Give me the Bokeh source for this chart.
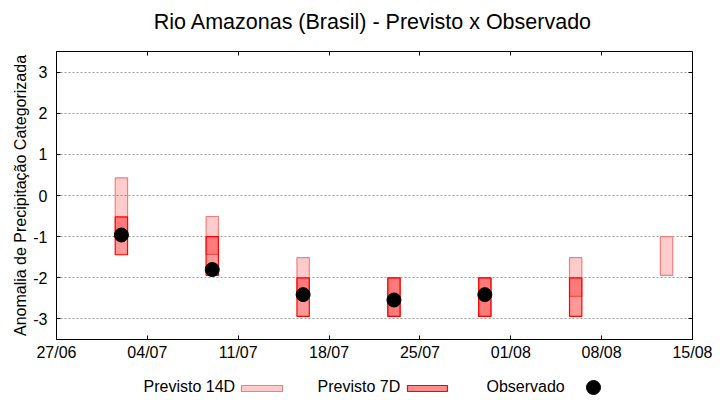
import pandas as pd
from bokeh.plotting import figure
from bokeh.layouts import column
from bokeh.models import (Range1d, FixedTicker, DatetimeTickFormatter, DatetimeAxis,
                          LinearAxis, CustomJSTickFormatter)
from bokeh.core.properties import value
from bokeh.embed import file_html
from bokeh.resources import INLINE

# ---------------- data ----------------
dates_14d = ["2024-07-02", "2024-07-09", "2024-07-16", "2024-07-23",
             "2024-07-30", "2024-08-06", "2024-08-13"]
p14_top = [0.43, -0.51, -1.51, -2.0, -2.0, -1.51, -1.0]
p14_bottom = [-1.0, -1.43, -2.45, -2.94, -2.94, -2.45, -1.94]

dates_7d = ["2024-07-02", "2024-07-09", "2024-07-16", "2024-07-23",
            "2024-07-30", "2024-08-06"]
p7_top = [-0.52, -1.0, -2.0, -2.0, -2.0, -2.0]
p7_bottom = [-1.44, -1.94, -2.94, -2.94, -2.94, -2.94]

dates_obs = ["2024-07-02", "2024-07-09", "2024-07-16", "2024-07-23", "2024-07-30"]
obs = [-0.96, -1.80, -2.41, -2.54, -2.41]

x_tick_dates = ["2024-06-27", "2024-07-04", "2024-07-11", "2024-07-18",
                "2024-07-25", "2024-08-01", "2024-08-08", "2024-08-15"]
y_ticks = [-3, -2, -1, 0, 1, 2, 3]

title_text = "Rio Amazonas (Brasil) - Previsto x Observado"
y_label = "Anomalia de Precipitação Categorizada"
legend_labels = ["Previsto 14D", "Previsto 7D", "Observado"]

# ---------------- layout constants ----------------
FONT = "Liberation Sans"
DAY_MS = 86400000
bar_w = 0.95 * DAY_MS
W = 720
FRAME_L, FRAME_R = 56, 692
TITLE_H = 40
MAIN_H = 326
LEG_H = 34
FRAME_TOP, FRAME_BOTTOM = 51, 339   # page pixels


def strip(height, y_top):
    """A bare figure whose frame is aligned with the main frame; data units = page px."""
    f = figure(width=W, height=height, output_backend="svg", toolbar_location=None,
               x_range=Range1d(FRAME_L, FRAME_R), y_range=Range1d(y_top + height, y_top),
               min_border_left=FRAME_L, min_border_right=W - FRAME_R,
               min_border_top=0, min_border_bottom=0,
               x_axis_location=None, y_axis_location=None)
    f.title.visible = False
    f.outline_line_color = None
    f.xgrid.visible = False
    f.ygrid.visible = False
    return f


# ---------------- title strip ----------------
tfig = strip(TITLE_H, 0)
tfig.text(x=[(FRAME_L + FRAME_R) / 2 - 1.5], y=[21], text=[title_text], text_font=value(FONT),
          text_font_size="21.5px", text_color="black", text_align="center",
          text_baseline="middle")

# ---------------- main figure ----------------
p = figure(width=W, height=MAIN_H, output_backend="svg", toolbar_location=None,
           x_axis_type="datetime",
           x_range=Range1d(pd.Timestamp(x_tick_dates[0]), pd.Timestamp(x_tick_dates[-1])),
           y_range=Range1d(-3.5, 3.5),
           min_border_left=FRAME_L, min_border_right=W - FRAME_R,
           min_border_top=FRAME_TOP - TITLE_H,
           min_border_bottom=TITLE_H + MAIN_H - FRAME_BOTTOM)
p.title.visible = False
p.outline_line_color = "black"
p.outline_line_width = 1

xt = FixedTicker(ticks=[pd.Timestamp(d).timestamp() * 1000 for d in x_tick_dates])
fmt_str = "%d/%m"
xf = DatetimeTickFormatter(microseconds=fmt_str, milliseconds=fmt_str, seconds=fmt_str,
                           minsec=fmt_str, minutes=fmt_str, hourmin=fmt_str, hours=fmt_str,
                           days=fmt_str, months=fmt_str, years=fmt_str)
yt = FixedTicker(ticks=y_ticks)

for ax in p.xaxis:
    ax.ticker = xt
    ax.formatter = xf
for ax in p.yaxis:
    ax.ticker = yt
    ax.major_label_overrides = {t: str(t) for t in y_ticks}
    ax.axis_label = y_label
    ax.axis_label_text_font = FONT
    ax.axis_label_text_font_size = "16px"
    ax.axis_label_text_font_style = "normal"
    ax.axis_label_text_color = "black"
    ax.axis_label_standoff = 1
for ax in p.xaxis + p.yaxis:
    ax.major_tick_in = 4
    ax.major_tick_out = 0
    ax.minor_tick_line_color = None
    ax.major_label_text_font = FONT
    ax.major_label_text_font_size = "16px"
    ax.major_label_text_color = "black"
    ax.axis_line_color = "black"
    ax.major_tick_line_color = "black"
p.xaxis.major_label_standoff = 4
p.yaxis.major_label_standoff = 9

blank = CustomJSTickFormatter(code="return ''")
top_ax = DatetimeAxis(ticker=xt, formatter=blank,
                      major_label_standoff=0, major_tick_in=4, major_tick_out=0,
                      axis_line_color=None, minor_tick_line_color=None)
right_ax = LinearAxis(ticker=yt, formatter=blank,
                      major_label_standoff=0, major_tick_in=4, major_tick_out=0,
                      axis_line_color=None, minor_tick_line_color=None)
p.add_layout(top_ax, "above")
p.add_layout(right_ax, "right")

p.xgrid.visible = False
p.ygrid.ticker = yt
p.ygrid.grid_line_color = "#a0a0a0"
p.ygrid.grid_line_dash = "2 2"
p.ygrid.grid_line_width = 1

p.vbar(x=pd.to_datetime(dates_14d), width=bar_w, top=p14_top, bottom=p14_bottom,
       fill_color="red", fill_alpha=0.2, line_color="#f08080", line_width=1.2)
p.vbar(x=pd.to_datetime(dates_7d), width=bar_w, top=p7_top, bottom=p7_bottom,
       fill_color="red", fill_alpha=0.4, line_color="red", line_width=1.2)
p.scatter(x=pd.to_datetime(dates_obs), y=obs, size=14, marker="circle",
          fill_color="black", line_color="black")

# ---------------- legend strip ----------------
leg = strip(LEG_H, TITLE_H + MAIN_H)
leg_text_x = [143, 317, 486]
leg_y = 386
leg.text(x=leg_text_x, y=[leg_y] * 3, text=legend_labels, text_font=value(FONT),
         text_font_size="16px", text_color="black", text_align="left",
         text_baseline="middle")
leg.quad(left=[241], right=[282], top=[385], bottom=[391],
         fill_color="#ffcccc", line_color="#f08080", line_width=1.2)
leg.quad(left=[407], right=[447], top=[385], bottom=[391],
         fill_color="#ff8c8c", line_color="red", line_width=1.2)
leg.scatter(x=[593], y=[387], size=14, marker="circle",
            fill_color="black", line_color="black")

layout = column(tfig, p, leg, spacing=0)
open("out.html", "w").write(file_html(layout, INLINE))
